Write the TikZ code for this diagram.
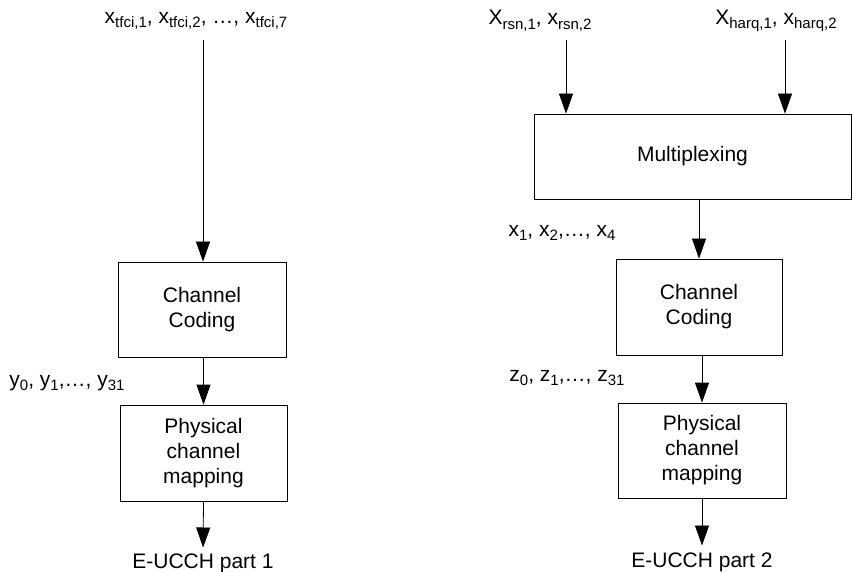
\documentclass[tikz,border=0pt]{standalone}
\usepackage{fontspec}
\setmainfont{Liberation Sans}
\usetikzlibrary{arrows.meta}
\newcommand\sbs[1]{\raisebox{-0.22em}{\fontsize{15}{15}\selectfont #1}}
\begin{document}
\begin{tikzpicture}[x=1pt,y=-1pt,
  every node/.style={font=\fontsize{21}{25}\selectfont},
  blockbox/.style={draw, line width=0.8pt, align=center, inner sep=0pt},
  lbl/.style={inner sep=0pt},
  arr/.style={line width=0.8pt, -{Triangle[length=20pt,width=14pt]}}]
\useasboundingbox (0,0) rectangle (852,572);
% left chain
\node[lbl] (t1) at (196,21) {x\sbs{tfci,1}, x\sbs{tfci,2}, \ldots, x\sbs{tfci,7}};
\coordinate (s1) at (203,40);
\node[blockbox, minimum width=168pt, minimum height=95pt] (cc1) at (202,309.5) {Channel\\Coding};
\node[lbl] (ylab) at (67,383) {y\sbs{0}, y\sbs{1},\ldots, y\sbs{31}};
\node[blockbox, minimum width=167pt, minimum height=96pt] (pm1) at (203.5,453) {Physical\\channel\\mapping};
\node[lbl, anchor=north] (e1) at (203,553.5) {E-UCCH part 1};
\draw[arr] (s1) -- (s1 |- cc1.north);
\draw[arr] (cc1.south -| pm1.north) -- (pm1.north);
\draw[arr, shorten >=6pt] (pm1.south) -- (e1.north);
% right chain
\node[lbl] (t2) at (540,21) {X\sbs{rsn,1}, x\sbs{rsn,2}};
\node[lbl] (t3) at (776,21) {X\sbs{harq,1}, x\sbs{harq,2}};
\coordinate (s2) at (566,40);
\coordinate (s3) at (785,40);
\node[blockbox, minimum width=317pt, minimum height=85pt] (mux) at (692.5,156.5) {Multiplexing};
\node[lbl] (xlab) at (562,233) {x\sbs{1}, x\sbs{2},\ldots, x\sbs{4}};
\node[blockbox, minimum width=166pt, minimum height=96pt] (cc2) at (699,307) {Channel\\Coding};
\node[lbl] (zlab) at (567,378) {z\sbs{0}, z\sbs{1},\ldots, z\sbs{31}};
\node[blockbox, minimum width=168pt, minimum height=95pt] (pm2) at (702,450.5) {Physical\\channel\\mapping};
\node[lbl, anchor=north] (e2) at (702,552.5) {E-UCCH part 2};
\draw[arr] (s2) -- (s2 |- mux.north);
\draw[arr] (s3) -- (s3 |- mux.north);
\draw[arr] (cc2.north |- mux.south) -- (cc2.north);
\draw[arr] (pm2.north |- cc2.south) -- (pm2.north);
\draw[arr, shorten >=7pt] (pm2.south) -- (e2.north);
\end{tikzpicture}
\end{document}
